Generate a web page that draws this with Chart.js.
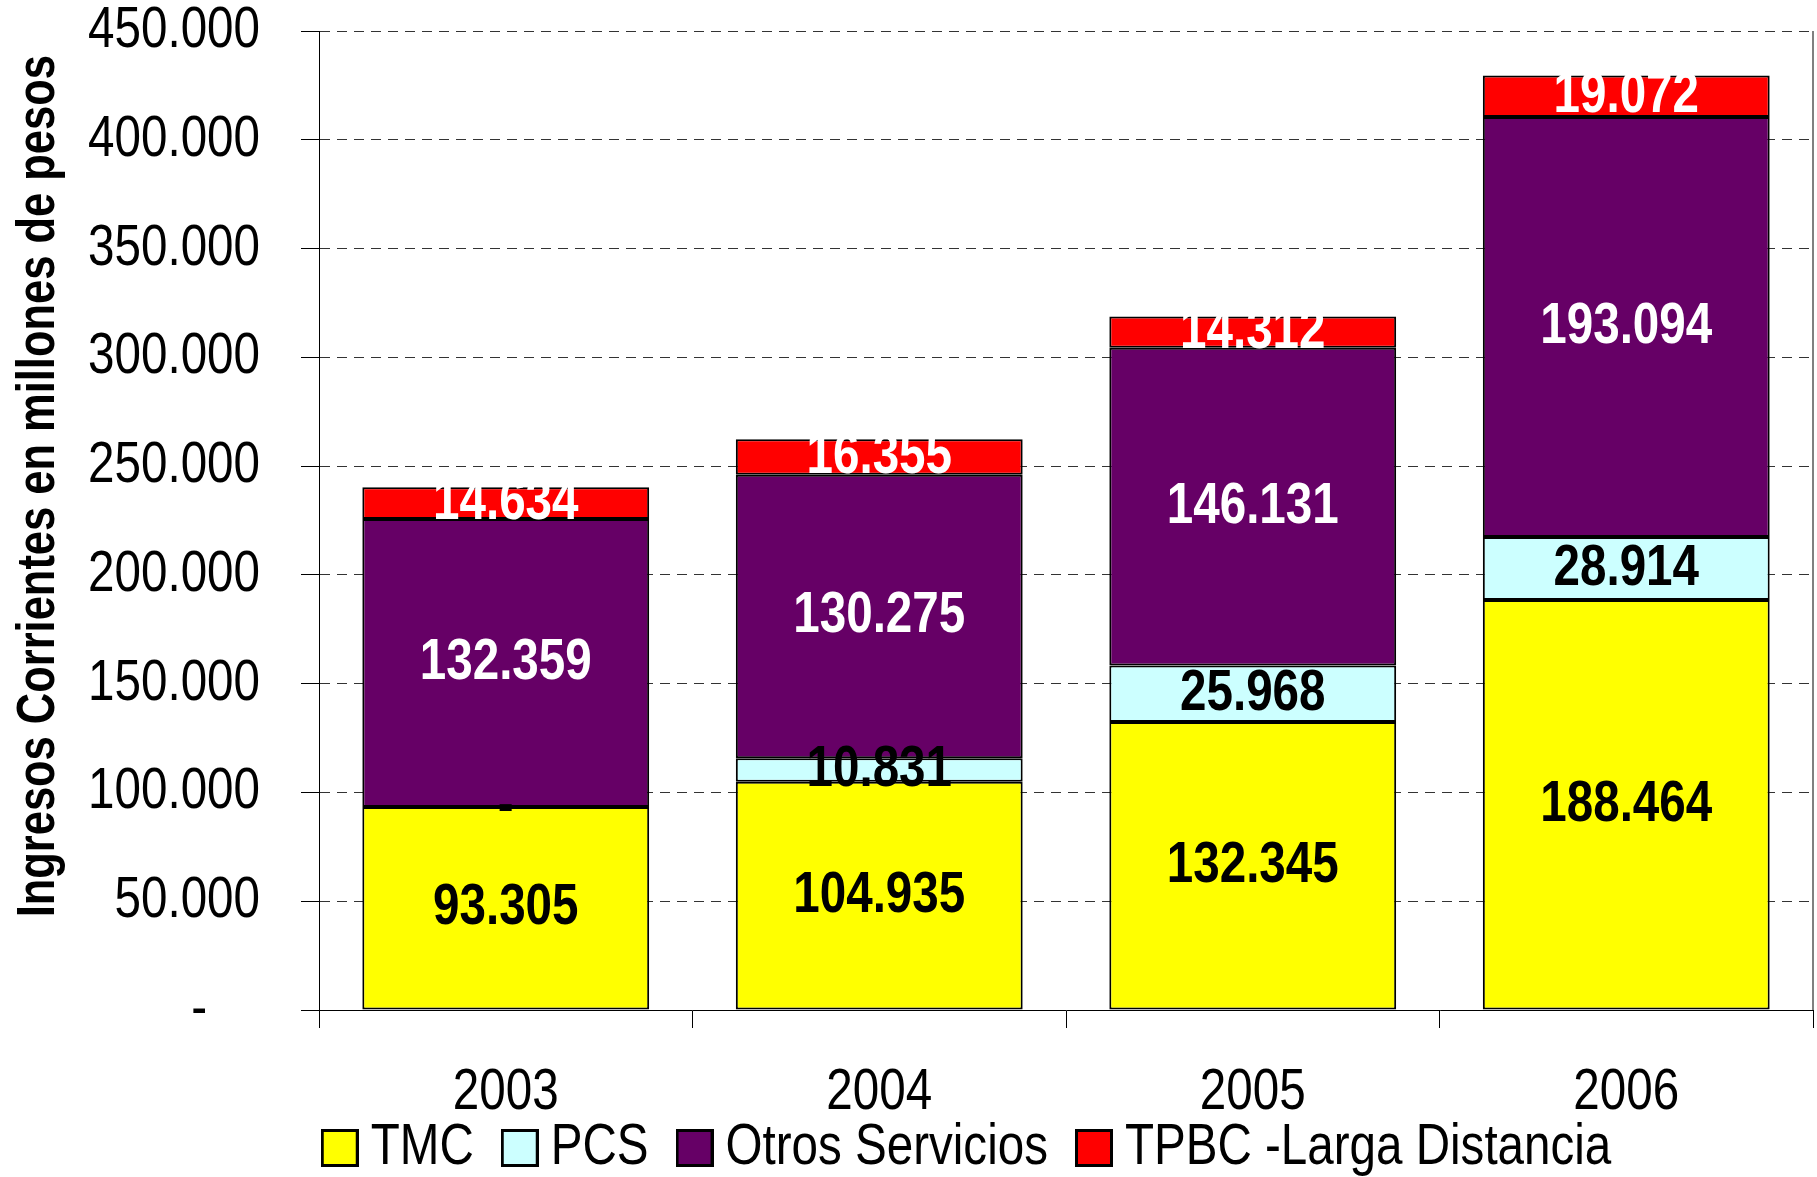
<!DOCTYPE html>
<html><head><meta charset="utf-8">
<script src="https://cdn.jsdelivr.net/npm/chart.js@4/dist/chart.umd.min.js"></script>
<style>html,body{margin:0;padding:0;background:#fff}#wrap{width:1817px;height:1177px;position:relative}</style>
</head><body><div id="wrap"><canvas id="c"></canvas></div>
<script>
const years = ['2003','2004','2005','2006'];
const tmc = [93305,104935,132345,188464];
const pcs = [0,10831,25968,28914];
const otros = [132359,130275,146131,193094];
const tpbc = [14634,16355,14312,19072];
const seriesNames = ['TMC','PCS','Otros Servicios','TPBC -Larga Distancia'];
const seriesColors = ['#FFFF00','#CCFFFF','#660066','#FF0000'];
const labelColors = ['#000000','#000000','#FFFFFF','#FFFFFF'];
const yTickLabels = ['-    ','50.000','100.000','150.000','200.000','250.000','300.000','350.000','400.000','450.000'];
const yTitle = 'Ingresos Corrientes en millones de pesos  ';

const FF = "'Liberation Sans', Arial, sans-serif";
const NARROW = 0.82; // Arial Narrow look: Arial compressed horizontally
function fmt(v){ if(v===0) return '-'; return String(v).replace(/\B(?=(\d{3})+(?!\d))/g,'.'); }

const canvas = document.getElementById('c');
const ctx0 = canvas.getContext('2d');
const _fill = ctx0.fillText.bind(ctx0);
const _measure = ctx0.measureText.bind(ctx0);
ctx0.fillText = function(t, x, y){
  this.save(); this.translate(x, y); this.scale(NARROW, 1); _fill(t, 0, 0); this.restore();
};
ctx0.measureText = function(t){
  const m = _measure(t);
  return { width: m.width * NARROW,
    actualBoundingBoxAscent: m.actualBoundingBoxAscent, actualBoundingBoxDescent: m.actualBoundingBoxDescent,
    actualBoundingBoxLeft: m.actualBoundingBoxLeft * NARROW, actualBoundingBoxRight: m.actualBoundingBoxRight * NARROW,
    fontBoundingBoxAscent: m.fontBoundingBoxAscent, fontBoundingBoxDescent: m.fontBoundingBoxDescent };
};

// legend swatches (38x38 square with black outline)
function swatch(color){
  const c = document.createElement('canvas'); c.width = 38; c.height = 38;
  const g = c.getContext('2d');
  g.fillStyle = color; g.fillRect(0,0,38,38);
  g.strokeStyle = '#000'; g.lineWidth = 3; g.strokeRect(1.5,1.5,35,35);
  return c;
}
const swatches = seriesColors.map(swatch);

const valueLabels = {
  id:'valueLabels',
  afterDatasetsDraw(chart){
    const ctx = chart.ctx;
    chart.data.datasets.forEach((ds,di)=>{
      const meta = chart.getDatasetMeta(di);
      meta.data.forEach((el,i)=>{
        const v = ds.data[i];
        const yc = (el.y + el.base)/2;
        ctx.save();
        ctx.font = 'bold 58px ' + FF;
        ctx.fillStyle = labelColors[di];
        ctx.textAlign = 'center';
        ctx.textBaseline = 'middle';
        ctx.fillText(fmt(v), el.x, yc);
        ctx.restore();
      });
    });
  }
};
const frame = {
  id:'frame',
  beforeDatasetsDraw(chart){
    const {ctx, chartArea:a} = chart;
    ctx.save(); ctx.strokeStyle='#808080'; ctx.lineWidth=2;
    ctx.beginPath(); ctx.moveTo(a.right, a.top); ctx.lineTo(a.right, a.bottom); ctx.stroke(); ctx.restore();
  }
};
const legendShift = {
  id:'legendShift',
  beforeLayout(chart){
    const l = chart.legend;
    if (l && !l._wrapped){ const f = l.fit; l.fit = function(){ f.call(this); this.height = 76; }; l._wrapped = true; }
  },
  afterLayout(chart){
    const l = chart.legend;
    if(l){ l.left += 68; l.right += 68; l.top -= 26; l.bottom = l.top + 200; }
  }
};

const datasets = [tmc,pcs,otros,tpbc].map((d,i)=>({
  label: seriesNames[i], data: d, backgroundColor: seriesColors[i],
  borderColor:'#000', borderWidth:2, borderSkipped:false,
  barPercentage:0.768, categoryPercentage:1.0
}));

new Chart(canvas, {
  type:'bar',
  data:{ labels: years, datasets },
  options:{
    responsive:true, maintainAspectRatio:false, animation:false, devicePixelRatio:1,
    layout:{ padding:{ top:0, right:4, left:0, bottom:0 } },
    plugins:{
      tooltip:{enabled:false},
      legend:{
        position:'bottom',
        labels:{
          usePointStyle:true, pointStyleWidth:4, boxHeight:38, padding:44, color:'#000', font:{family:FF, size:58},
          generateLabels(chart){
            const items = Chart.defaults.plugins.legend.labels.generateLabels(chart);
            items.forEach((it,i)=>{ it.pointStyle = swatches[i]; });
            return items;
          }
        }
      }
    },
    scales:{
      x:{
        stacked:true,
        grid:{ display:true, drawOnChartArea:false, drawTicks:true, tickLength:18, tickColor:'#000', tickWidth:1, offset:true },
        border:{ display:true, color:'#000', width:1 },
        ticks:{ color:'#000', font:{family:FF, size:58, lineHeight:1.0}, padding:36 },
        afterFit(s){ s.height = 91; s._computeLabelArea = () => null; }
      },
      y:{
        stacked:true, min:0, max:450000,
        ticks:{ stepSize:50000, color:'#000', padding:41, font:{family:FF, size:58, lineHeight:1.0},
          callback:(v,i)=> yTickLabels[i] },
        grid:{ color:'#333', lineWidth:1, tickLength:18, tickColor:'#000', tickWidth:1, tickBorderDash:[] },
        border:{ display:true, color:'#000', width:1, dash:[10,7] },
        title:{ display:true, text:yTitle, align:'end', color:'#000', font:{family:FF, size:53, weight:'bold'}, padding:{top:8,bottom:0} },
        afterFit(s){ s.width = 319; s.paddingTop = 31; s.paddingBottom = 0; }
      }
    }
  },
  plugins:[valueLabels, frame, legendShift]
});
</script></body></html>
